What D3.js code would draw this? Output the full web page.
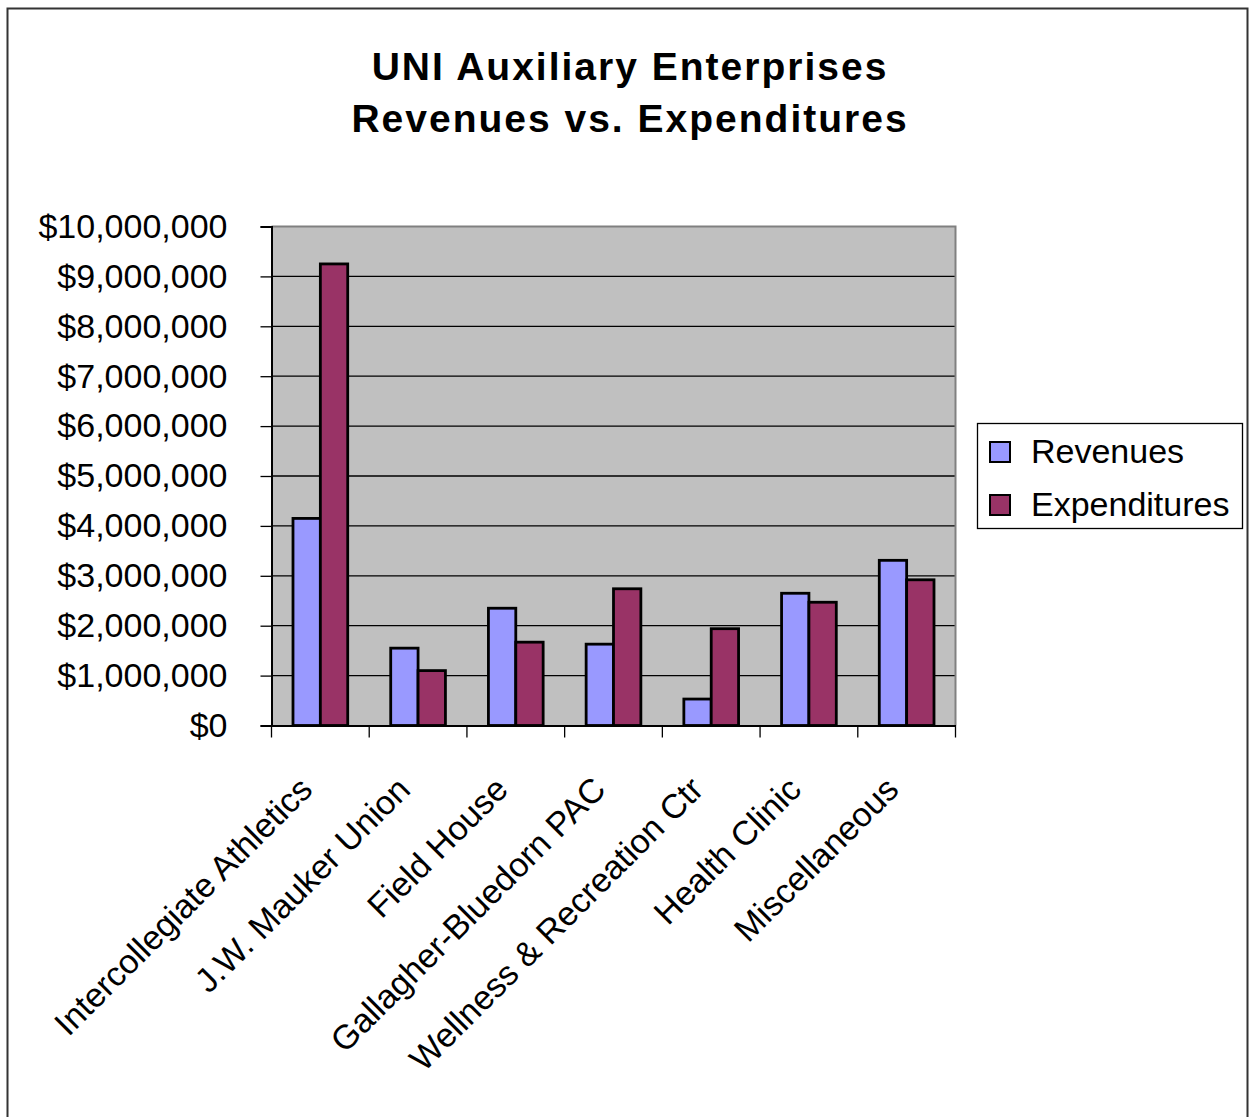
<!DOCTYPE html>
<html>
<head>
<meta charset="utf-8">
<script src="https://cdn.jsdelivr.net/npm/d3@7"></script>
<style>
  body { margin: 0; background: #fff; }
  svg { display: block; font-family: "Liberation Sans", Arial, sans-serif; }
  .title { font-weight: bold; font-size: 39px; letter-spacing: 2px; }
  .legend text { font-size: 34px; }
</style>
</head>
<body>
<svg></svg>
<script>

// chart data
var categories = ["Intercollegiate Athletics", "J.W. Mauker Union", "Field House",
                  "Gallagher-Bluedorn PAC", "Wellness & Recreation Ctr",
                  "Health Clinic", "Miscellaneous"];
var seriesNames = ["Revenues", "Expenditures"];
var revenues = [4150000, 1550000, 2350000, 1630000, 530000, 2650000, 3310000];
var expenditures = [9250000, 1100000, 1670000, 2740000, 1940000, 2470000, 2920000];
var yTicks = [0, 1000000, 2000000, 3000000, 4000000, 5000000,
              6000000, 7000000, 8000000, 9000000, 10000000];
var colors = ["#9999FF", "#993366"];

var screen = {width:1253, height:1117};
var plot = {left:271.5, top:226.5, right:955.5, bottom:725.5};

var svg = d3.select("svg")
    .attr("width", screen.width)
    .attr("height", screen.height);

// outer chart border (bottom runs off the picture)
svg.append("rect")
    .attr("x", 7.5).attr("y", 8.5)
    .attr("width", 1240).attr("height", 1130)
    .attr("fill", "none")
    .attr("stroke", "#333")
    .attr("stroke-width", 2);

// title
var title = svg.append("text")
    .classed("title", true)
    .attr("text-anchor", "middle");
title.append("tspan").attr("x", 630).attr("y", 80).text("UNI Auxiliary Enterprises");
title.append("tspan").attr("x", 630).attr("y", 132).text("Revenues vs. Expenditures");

var xScale = d3.scaleBand()
    .domain(categories)
    .range([plot.left, plot.right])
    .paddingInner(0.44)
    .paddingOuter(0.22);

var xSub = d3.scaleBand()
    .domain(seriesNames)
    .range([0, xScale.bandwidth()]);

var yScale = d3.scaleLinear()
    .domain([0, 10000000])
    .range([plot.bottom, plot.top]);

// plot background
svg.append("rect")
    .attr("x", plot.left).attr("y", plot.top)
    .attr("width", plot.right - plot.left)
    .attr("height", plot.bottom - plot.top)
    .attr("fill", "#C0C0C0");

// gridlines
svg.append("g")
    .selectAll("line")
    .data(yTicks.slice(1, -1))
    .enter()
    .append("line")
    .attr("x1", plot.left).attr("x2", plot.right)
    .attr("y1", function(d){ return yScale(d); })
    .attr("y2", function(d){ return yScale(d); })
    .attr("stroke", "#000")
    .attr("stroke-width", 1.3);

// top & right border in grey
svg.append("path")
    .attr("d", "M" + plot.left + "," + plot.top + "H" + plot.right + "V" + plot.bottom)
    .attr("fill", "none")
    .attr("stroke", "#808080")
    .attr("stroke-width", 2);

// bars
var rows = categories.map(function(c, i){
    return {cat:c, values:[revenues[i], expenditures[i]]};
});

var groups = svg.append("g")
    .selectAll("g")
    .data(rows)
    .enter()
    .append("g")
    .attr("transform", function(d){ return "translate(" + xScale(d.cat) + ",0)"; });

groups.selectAll("rect")
    .data(function(d){
        return d.values.map(function(v, j){ return {name:seriesNames[j], value:v, idx:j}; });
    })
    .enter()
    .append("rect")
    .attr("x", function(d){ return xSub(d.name); })
    .attr("y", function(d){ return yScale(d.value); })
    .attr("width", xSub.bandwidth())
    .attr("height", function(d){ return plot.bottom - yScale(d.value); })
    .attr("fill", function(d){ return colors[d.idx]; })
    .attr("stroke", "#000")
    .attr("stroke-width", 2.8);

// y axis
var yAxis = d3.axisLeft(yScale)
    .tickValues(yTicks)
    .tickFormat(d3.format("$,"))
    .tickSize(11)
    .tickPadding(33);

var yG = svg.append("g")
    .attr("transform", "translate(" + plot.left + ",0)")
    .call(yAxis);
yG.selectAll("line").attr("stroke", "#000").attr("stroke-width", 1.3);
yG.select(".domain").attr("stroke", "#000").attr("stroke-width", 2);
yG.selectAll("text")
    .attr("fill", "#000")
    .attr("font-size", 34)
    .attr("font-family", "Liberation Sans, Arial, sans-serif");

// x axis: labels
var xAxis = d3.axisBottom(xScale).tickSize(0).tickPadding(0);
var xG = svg.append("g")
    .attr("transform", "translate(0," + plot.bottom + ")")
    .call(xAxis);
xG.select(".domain").attr("stroke", "#000").attr("stroke-width", 2);
xG.selectAll("text")
    .attr("fill", "#000")
    .attr("font-size", 34)
    .attr("font-family", "Liberation Sans, Arial, sans-serif")
    .attr("text-anchor", "end")
    .attr("dy", 0)
    .attr("y", 0)
    .attr("transform", "translate(-6,66) rotate(-45)");

// x axis: tick marks on category boundaries
var bounds = d3.range(categories.length + 1).map(function(i){
    return plot.left + i * xScale.step();
});
svg.append("g")
    .selectAll("line")
    .data(bounds)
    .enter()
    .append("line")
    .attr("x1", function(d){ return d; })
    .attr("x2", function(d){ return d; })
    .attr("y1", plot.bottom)
    .attr("y2", plot.bottom + 12)
    .attr("stroke", "#000")
    .attr("stroke-width", 1.3);

// legend
var legend = svg.append("g").classed("legend", true);
legend.append("rect")
    .attr("x", 977.5).attr("y", 423.5)
    .attr("width", 265).attr("height", 105)
    .attr("fill", "#fff")
    .attr("stroke", "#000")
    .attr("stroke-width", 1.3);

var entries = legend.selectAll("g")
    .data(seriesNames)
    .enter()
    .append("g")
    .attr("transform", function(d, i){ return "translate(990," + (442 + i * 53) + ")"; });

entries.append("rect")
    .attr("width", 20).attr("height", 20)
    .attr("fill", function(d, i){ return colors[i]; })
    .attr("stroke", "#000")
    .attr("stroke-width", 2);

entries.append("text")
    .attr("x", 41).attr("y", 21)
    .text(function(d){ return d; });

</script>
</body>
</html>
